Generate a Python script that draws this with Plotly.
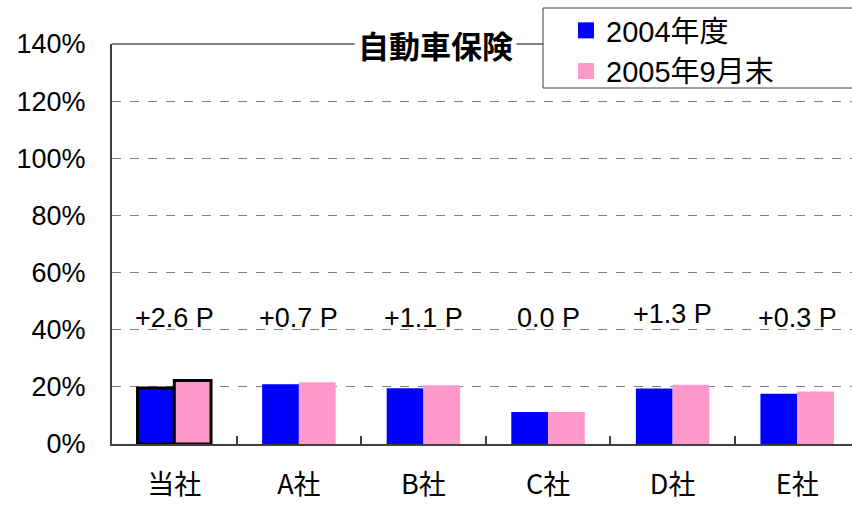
import plotly.graph_objects as go

categories = ["当社", "A社", "B社", "C社", "D社", "E社"]
series_2004 = [19.6, 20.9, 19.5, 11.2, 19.4, 17.6]
series_2005 = [22.2, 21.6, 20.6, 11.2, 20.7, 18.4]
diff_labels = ["+2.6 P", "+0.7 P", "+1.1 P", "0.0 P", "+1.3 P", "+0.3 P"]
diff_label_y = [44, 44, 44, 44, 45.5, 44]
y_ticks = [0, 20, 40, 60, 80, 100, 120, 140]
y_tick_text = [f"{v}%" for v in y_ticks]
title_text = "自動車保険"
name_2004 = "2004年度"
name_2005 = "2005年9月末"
color_2004 = "#0000FF"
color_2005 = "#FF99CC"

FONT = "Liberation Sans, Arial, Noto Sans CJK JP, sans-serif"
CJK = "Noto Sans CJK JP, sans-serif"
outline = [3 if c == "当社" else 0 for c in categories]

fig = go.Figure()
fig.add_trace(go.Bar(x=categories, y=series_2004, name=name_2004, showlegend=False,
                     marker=dict(color=color_2004, line=dict(color="black", width=outline))))
fig.add_trace(go.Bar(x=categories, y=series_2005, name=name_2005, showlegend=False,
                     marker=dict(color=color_2005, line=dict(color="black", width=outline))))
# legend entries (square keys)
for nm, col in [(name_2004, color_2004), (name_2005, color_2005)]:
    fig.add_trace(go.Scatter(x=[None], y=[None], mode="markers", name=nm,
                             marker=dict(symbol="square", size=20, color=col)))

for c, t, yy in zip(categories, diff_labels, diff_label_y):
    fig.add_annotation(x=c, y=yy, text=t, showarrow=False, xref="x", yref="y",
                       font=dict(size=27, color="black", family=FONT))

L, T, W, H = 112, 44, 852, 506
PW, PH = W - L, 444 - T

def px_x(p):
    return (p - L) / PW

def px_y(p):
    return (444 - p) / PH

# top frame line
fig.add_shape(type="line", xref="paper", yref="paper", x0=0, x1=1.2, y0=1, y1=1,
              line=dict(color="#808080", width=2), layer="above")
# legend box
fig.add_shape(type="rect", xref="paper", yref="paper",
              x0=px_x(543), x1=1.3, y0=px_y(88), y1=px_y(8),
              line=dict(color="#404040", width=1), fillcolor="white", layer="above")

fig.add_annotation(x=px_x(435), y=1, xref="paper", yref="paper", text=f"<b>{title_text}</b>",
                   showarrow=False, bgcolor="white", borderpad=3, yanchor="middle",
                   font=dict(size=31, color="black", family=CJK))

fig.update_layout(
    width=W, height=H,
    margin=dict(l=L, r=0, t=T, b=H - 444, autoexpand=False),
    paper_bgcolor="white", plot_bgcolor="white",
    barmode="group", bargap=0.41, bargroupgap=0,
    font=dict(family=FONT, color="black"),
    legend=dict(x=px_x(566), y=px_y(5), xanchor="left", yanchor="top",
                bgcolor="rgba(0,0,0,0)", borderwidth=0,
                font=dict(size=29, family=FONT, color="black"),
                tracegroupgap=0, itemwidth=30),
    showlegend=True,
)
fig.update_xaxes(range=[-0.5, 5.44], showline=True, linecolor="#404040", linewidth=2,
                 ticks="inside", tickson="boundaries", ticklen=8, tickcolor="#404040",
                 tickwidth=1.5, ticklabelstandoff=16,
                 tickfont=dict(size=27, family=CJK),
                 showgrid=False, fixedrange=True)
fig.update_yaxes(range=[0, 140], tickvals=y_ticks, ticktext=y_tick_text,
                 showline=True, linecolor="#404040", linewidth=2, ticks="",
                 ticklabelstandoff=19, tickfont=dict(size=27, family=FONT),
                 showgrid=True, gridcolor="#808080", gridwidth=1, griddash="dash",
                 zeroline=False)

fig.write_html("out.html", config={"displayModeBar": False},
               post_script="document.body.style.margin='0px';")
